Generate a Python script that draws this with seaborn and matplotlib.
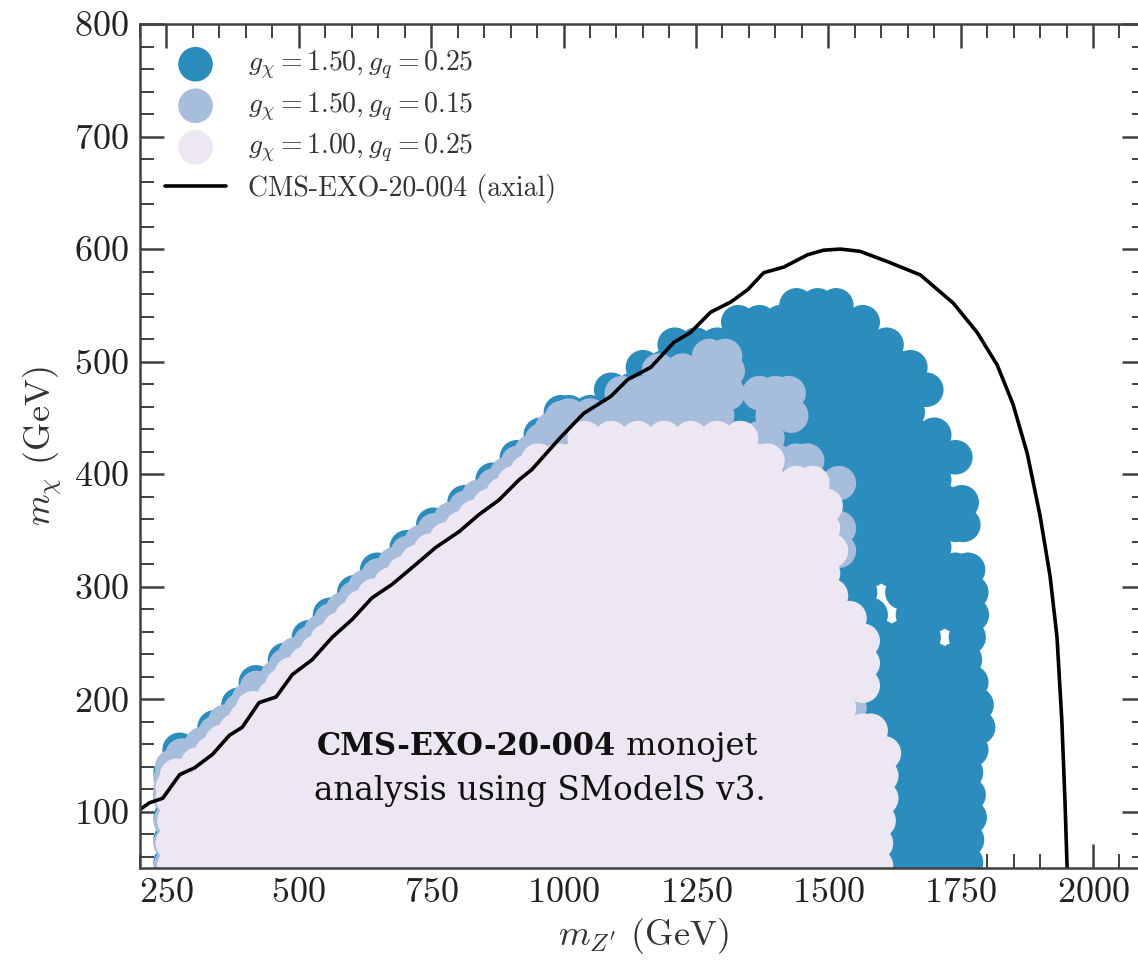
import matplotlib
matplotlib.use('Agg')
import pandas as pd
import matplotlib.pyplot as plt
from matplotlib.ticker import MultipleLocator
import seaborn as sns

# colours (PuBu)
col_dark = '#2b8cbe'
col_mid = '#a6bddb'
col_light = '#ece7f2'

labels = [r'$g_{\chi} = 1.50, g_q = 0.25$',
          r'$g_{\chi} = 1.50, g_q = 0.15$',
          r'$g_{\chi} = 1.00, g_q = 0.25$']
line_label = 'CMS-EXO-20-004 (axial)'

# excluded scan points, m_chi row -> list of m_Z' values (GeV)
light_rows = {
    52: [265, 315, 365, 415, 465, 515, 565, 615, 665, 715, 765, 815, 865, 915, 965, 1015, 1065, 1115, 1165, 1215, 1265, 1315, 1365, 1415, 1465, 1515, 1565, 1590],
    72: [262, 290, 340, 390, 440, 490, 540, 590, 640, 690, 740, 790, 840, 890, 940, 990, 1040, 1090, 1140, 1190, 1240, 1290, 1340, 1390, 1440, 1490, 1540, 1590],
    92: [265, 315, 365, 415, 465, 515, 565, 615, 665, 715, 765, 815, 865, 915, 965, 1015, 1065, 1115, 1165, 1215, 1265, 1315, 1365, 1415, 1465, 1515, 1565, 1595],
    112: [262, 290, 340, 390, 440, 490, 540, 590, 640, 690, 740, 790, 840, 890, 940, 990, 1040, 1090, 1140, 1190, 1240, 1290, 1340, 1390, 1440, 1490, 1540, 1590, 1600],
    122: [262],
    132: [270, 315, 365, 415, 465, 515, 565, 615, 665, 715, 765, 815, 865, 915, 965, 1015, 1065, 1115, 1165, 1215, 1265, 1315, 1365, 1415, 1465, 1515, 1565, 1600],
    142: [309],
    152: [336, 390, 440, 490, 540, 590, 640, 690, 740, 790, 840, 890, 940, 990, 1040, 1090, 1140, 1190, 1240, 1290, 1340, 1390, 1440, 1490, 1540, 1590, 1605],
    162: [355],
    172: [381, 415, 465, 515, 565, 615, 665, 715, 765, 815, 865, 915, 965, 1015, 1065, 1115, 1165, 1215, 1265, 1315, 1365, 1415, 1465, 1515, 1565, 1580],
    182: [400],
    192: [414, 440, 490, 540, 590, 640, 690, 740, 790, 840, 890, 940, 990, 1040, 1090, 1140, 1190, 1240, 1290, 1340, 1390, 1440, 1490, 1520],
    202: [454],
    212: [469, 515, 565, 615, 665, 715, 765, 815, 865, 915, 965, 1015, 1065, 1115, 1165, 1215, 1265, 1315, 1365, 1415, 1465, 1515, 1565],
    222: [486],
    232: [514, 540, 590, 640, 690, 740, 790, 840, 890, 940, 990, 1040, 1090, 1140, 1190, 1240, 1290, 1340, 1390, 1440, 1490, 1540, 1565],
    242: [535],
    252: [554, 585, 615, 665, 715, 765, 815, 865, 915, 965, 1015, 1065, 1115, 1165, 1215, 1265, 1315, 1365, 1415, 1465, 1515, 1565],
    262: [577],
    272: [600, 640, 690, 740, 790, 840, 890, 940, 990, 1040, 1090, 1140, 1190, 1240, 1290, 1340, 1390, 1440, 1490, 1540],
    282: [619],
    292: [643, 690, 715, 765, 815, 865, 915, 965, 1015, 1065, 1115, 1165, 1215, 1265, 1315, 1365, 1415, 1465, 1505],
    302: [674],
    312: [699, 740, 790, 840, 890, 940, 990, 1040, 1090, 1140, 1190, 1240, 1290, 1340, 1390, 1440, 1490],
    322: [724],
    332: [749, 790, 815, 865, 915, 965, 1015, 1065, 1115, 1165, 1215, 1265, 1315, 1365, 1415, 1465, 1505],
    342: [779],
    352: [808, 840, 890, 940, 990, 1040, 1090, 1140, 1190, 1240, 1290, 1340, 1390, 1440, 1490],
    362: [833],
    372: [861, 915, 965, 1015, 1065, 1115, 1165, 1215, 1265, 1315, 1365, 1415, 1465, 1495],
    382: [886],
    392: [907, 940, 990, 1040, 1090, 1140, 1190, 1240, 1290, 1340, 1390, 1440, 1470],
    402: [932],
    412: [952, 990, 1015, 1065, 1115, 1165, 1215, 1265, 1315, 1365, 1385],
    432: [1040, 1090, 1140, 1190, 1240, 1290, 1335],
}

mid_rows = {
    52: [258], 72: [258], 92: [258], 112: [258], 120: [258], 130: [258],
    140: [261], 150: [280], 160: [317], 170: [343], 180: [361], 190: [390],
    200: [406], 210: [421], 220: [460], 230: [476], 240: [494], 250: [522],
    260: [542], 270: [561], 280: [584], 290: [607], 300: [626], 310: [651],
    320: [681], 330: [706], 340: [732], 350: [756], 360: [787], 370: [815],
    380: [840], 390: [869], 400: [893], 410: [914], 420: [940], 430: [959],
    440: [978], 450: [997],
    192: [1540], 332: [1520], 352: [1520], 392: [1520],
    412: [1400, 1440, 1460],
    432: [975, 1010, 1050, 1090, 1130, 1170, 1210, 1250, 1290, 1330, 1370, 1385],
    452: [1010, 1050, 1090, 1130, 1170, 1210, 1250, 1290, 1395, 1430],
    472: [1110, 1150, 1190, 1230, 1270, 1310, 1370, 1400, 1425],
    492: [1180, 1225, 1270, 1310],
    505: [1275, 1305],
}

dark_rows = {
    55: [258, 1560, 1600, 1640, 1680, 1720, 1760],
    75: [258, 1540, 1580, 1620, 1660, 1700, 1740, 1762],
    95: [258, 1560, 1600, 1640, 1680, 1720, 1760, 1767],
    115: [258, 1540, 1580, 1620, 1660, 1700, 1740, 1765],
    135: [258, 1560, 1600, 1640, 1680, 1720, 1760],
    155: [275, 1540, 1580, 1620, 1660, 1700, 1740, 1770],
    175: [341, 1520, 1560, 1600, 1640, 1680, 1720, 1760, 1783],
    195: [386, 1460, 1500, 1540, 1580, 1620, 1660, 1700, 1740, 1780],
    215: [419, 1520, 1560, 1600, 1640, 1680, 1720, 1760, 1770],
    235: [474, 1500, 1540, 1580, 1620, 1660, 1700, 1740, 1758],
    255: [519, 1520, 1560, 1600, 1640, 1680, 1760, 1765],
    275: [559, 1500, 1540, 1580, 1660, 1700, 1740, 1771],
    295: [605, 1440, 1480, 1520, 1560, 1640, 1680, 1720, 1760, 1770],
    315: [648, 1460, 1500, 1540, 1580, 1620, 1660, 1700, 1740, 1764],
    335: [704, 1440, 1480, 1520, 1560, 1600, 1640, 1680, 1700],
    355: [754, 1460, 1500, 1540, 1580, 1620, 1660, 1700, 1740, 1755],
    375: [813, 1440, 1480, 1520, 1560, 1600, 1640, 1680, 1720, 1752],
    395: [866, 1420, 1460, 1500, 1540, 1580, 1620, 1660, 1700],
    415: [912, 1360, 1400, 1440, 1480, 1520, 1560, 1600, 1640, 1680, 1720, 1740],
    435: [957, 1380, 1420, 1460, 1500, 1540, 1580, 1620, 1660, 1700],
    455: [995, 1010, 1050, 1090, 1130, 1170, 1210, 1250, 1290, 1330, 1370, 1410, 1450, 1490, 1530, 1570, 1610, 1650],
    475: [1090, 1130, 1170, 1210, 1250, 1290, 1330, 1370, 1410, 1450, 1490, 1530, 1570, 1610, 1650, 1685],
    495: [1150, 1190, 1230, 1270, 1310, 1350, 1390, 1430, 1470, 1510, 1550, 1590, 1630, 1655],
    515: [1210, 1250, 1290, 1330, 1370, 1410, 1450, 1490, 1530, 1570, 1610],
    535: [1330, 1370, 1410, 1450, 1490, 1530, 1565],
    550: [1440, 1480, 1515],
}

# CMS-EXO-20-004 axial exclusion contour
line_mz = [200, 218, 243, 275, 303, 337, 369, 393, 425, 457, 488, 525, 563, 601, 638, 676, 714,
           759, 803, 840, 878, 916, 940, 957, 995, 1038, 1089, 1121, 1165, 1208, 1240, 1278, 1316,
           1348, 1378, 1416, 1461, 1491, 1523, 1560, 1611, 1674, 1736, 1781, 1819, 1849, 1876,
           1900, 1919, 1932, 1941, 1947, 1951, 1952]
line_mchi = [102, 108, 112, 133, 139, 151, 168, 175, 197, 202, 222, 235, 255, 271, 290, 302, 317,
             335, 349, 364, 377, 395, 404, 413, 433, 454, 469, 484, 495, 517, 526, 544, 553,
             564, 579, 584, 595, 599, 600, 598, 589, 577, 552, 526, 497, 462, 418,
             363, 309, 255, 182, 110, 51, 40]


def rows_to_df(rows):
    mz, mchi = [], []
    for y, xs in rows.items():
        mz += xs
        mchi += [y] * len(xs)
    return pd.DataFrame({'mz': mz, 'mchi': mchi})


sns.set_theme(style='ticks')
plt.rcParams['font.family'] = ['cmr10', 'DejaVu Serif']
plt.rcParams['mathtext.fontset'] = 'cm'
plt.rcParams['axes.formatter.use_mathtext'] = True

fig = plt.figure(figsize=(11.38, 9.6), dpi=100)
ax = fig.add_axes([0.1230, 0.0958, 0.884, 0.8792])

for rows, col, lab in [(dark_rows, col_dark, labels[0]),
                       (mid_rows, col_mid, labels[1]),
                       (light_rows, col_light, labels[2])]:
    sns.scatterplot(data=rows_to_df(rows), x='mz', y='mchi', color=col, s=620,
                    linewidth=0, edgecolor='none', label=lab, ax=ax)

sns.lineplot(x=line_mz, y=line_mchi, sort=False, estimator=None, color='black',
             linewidth=2.6, label=line_label, ax=ax)

ax.set_xlim(200, 2100)
ax.set_ylim(50, 800)
ax.xaxis.set_major_locator(MultipleLocator(250))
ax.xaxis.set_minor_locator(MultipleLocator(50))
ax.yaxis.set_major_locator(MultipleLocator(100))
ax.yaxis.set_minor_locator(MultipleLocator(20))

for s in ax.spines.values():
    s.set_linewidth(1.8)
    s.set_color('#404040')
ax.tick_params(which='major', direction='in', length=17, width=1.8, color='#404040',
               top=True, right=True, labelsize=26, labelcolor='#222222')
ax.tick_params(which='minor', direction='in', length=10, width=1.4, color='#404040',
               top=True, right=True)
ax.tick_params(axis='x', which='major', pad=7)
ax.tick_params(axis='y', which='major', pad=8)

ax.set_xlabel(r"$m_{Z'}$ (GeV)", fontsize=26, color='#333333', labelpad=5)
ax.set_ylabel(r"$m_{\chi}$ (GeV)", fontsize=26, color='#333333', labelpad=7)

ax.legend(loc='upper left', frameon=False, fontsize=20, handlelength=2.2,
          handletextpad=0.8, labelspacing=0.3, borderaxespad=0.6, borderpad=0.3,
          scatterpoints=1, labelcolor='#333333')

# annotation
t1 = ax.text(0.176, 0.1445, 'CMS-EXO-20-004', transform=ax.transAxes, fontsize=22,
             fontweight='bold', family='DejaVu Serif', ha='left', va='center', color='#111111')
ax.annotate(' monojet', xy=(1, 0), xycoords=t1, fontsize=23, family='DejaVu Serif',
            ha='left', va='bottom', color='#111111')
ax.text(0.3976, 0.0912, 'analysis using SModelS v3.', transform=ax.transAxes, fontsize=23.5,
        family='DejaVu Serif', ha='center', va='center', color='#111111')

fig.savefig('out.png', dpi=100)
